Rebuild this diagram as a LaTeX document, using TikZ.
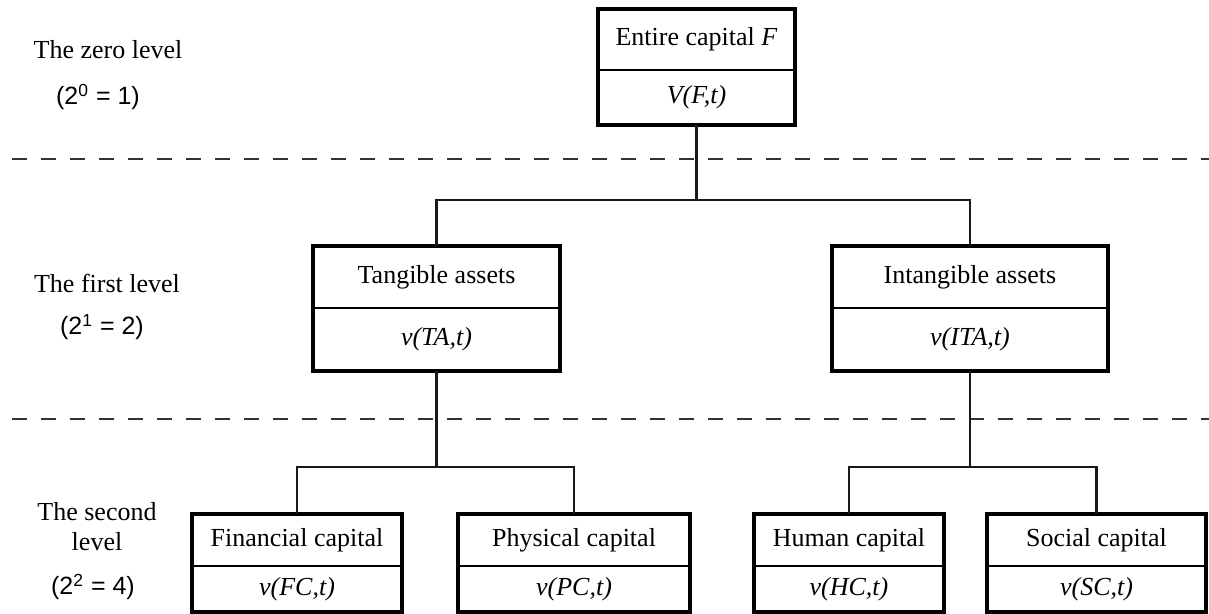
\documentclass[tikz,border=0pt]{standalone}
\usepackage{fontspec}
\setmainfont{Liberation Serif}
\setsansfont{Liberation Sans}

\begin{document}
\begin{tikzpicture}[x=0.5pt,y=-0.5pt,
            head/.style={draw,line width=1pt,outer sep=0pt,inner sep=0pt,font=\fontsize{13}{15}\selectfont},
            val/.style={head,font=\fontsize{13}{15}\selectfont\itshape},
            frame/.style={line width=1.75pt},
            link/.style={line width=1.05pt,black!90},
            level line/.style={line width=1.2pt,black!80,dash pattern=on 7.5pt off 7pt},
            level/.style={align=center,font=\fontsize{13}{15}\selectfont},
            power/.style={font=\sffamily\fontsize{12.5}{15}\selectfont},
            ]

            \useasboundingbox (0,0) rectangle (1209,614);

            % level borders
            \draw[level line] (12,159) -- (1209,159);
            \draw[level line] (12,419) -- (1209,419);

            % level names
            \node[level] (l0) at (108,50) {The zero level};
            \node[power] (p0) at (98,97) {(2\textsuperscript{0} = 1)};
            \node[level] (l1) at (107,283) {The first level};
            \node[power] (p1) at (102,327) {(2\textsuperscript{1} = 2)};
            \node[level] (l2) at (97,527) {The second\\level};
            \node[power] (p2) at (93,587) {(2\textsuperscript{2} = 4)};

            % zero level
            \node[head, minimum width=98.5pt, minimum height=30.5pt] (Ft) at (696.5,39.5) {Entire capital\ \textit{F}};
            \node[val, minimum width=98.5pt, minimum height=27.5pt] (Fv) at (696.5,97.5) {V(F,t)};
            \draw[frame] (Ft.north west) rectangle (Fv.south east);

            % first level
            \node[head, minimum width=123.5pt, minimum height=31pt] (TAt) at (436.5,277) {Tangible assets};
            \node[val, minimum width=123.5pt, minimum height=31.5pt] (TAv) at (436.5,339.5) {v(TA,t)};
            \draw[frame] (TAt.north west) rectangle (TAv.south east);

            \node[head, minimum width=138pt, minimum height=31pt] (ITAt) at (970,277) {Intangible assets};
            \node[val, minimum width=138pt, minimum height=31.5pt] (ITAv) at (970,339.5) {v(ITA,t)};
            \draw[frame] (ITAt.north west) rectangle (ITAv.south east);

            % second level
            \node[head, minimum width=105pt, minimum height=26pt] (FCt) at (297,540) {Financial capital};
            \node[val, minimum width=105pt, minimum height=23pt] (FCv) at (297,589) {v(FC,t)};
            \draw[frame] (FCt.north west) rectangle (FCv.south east);

            \node[head, minimum width=116pt, minimum height=26pt] (PCt) at (574,540) {Physical capital};
            \node[val, minimum width=116pt, minimum height=23pt] (PCv) at (574,589) {v(PC,t)};
            \draw[frame] (PCt.north west) rectangle (PCv.south east);

            \node[head, minimum width=95pt, minimum height=26pt] (HCt) at (849,540) {Human capital};
            \node[val, minimum width=95pt, minimum height=23pt] (HCv) at (849,589) {v(HC,t)};
            \draw[frame] (HCt.north west) rectangle (HCv.south east);

            \node[head, minimum width=109.5pt, minimum height=26pt] (SCt) at (1096.5,540) {Social capital};
            \node[val, minimum width=109.5pt, minimum height=23pt] (SCv) at (1096.5,589) {v(SC,t)};
            \draw[frame] (SCt.north west) rectangle (SCv.south east);

            % connectors
            \coordinate (j0) at (696.5,200);
            \coordinate (j1) at (436.5,467);
            \coordinate (j2) at (970,467);

            \draw[link] (Fv.south) -- (j0);
            \draw[link] (TAt.north) |- (j0) -| (ITAt.north);
            \draw[link] (TAv.south) -- (j1);
            \draw[link] (FCt.north) |- (j1) -| (PCt.north);
            \draw[link] (ITAv.south) -- (j2);
            \draw[link] (HCt.north) |- (j2) -| (SCt.north);
        \end{tikzpicture}
\end{document}
